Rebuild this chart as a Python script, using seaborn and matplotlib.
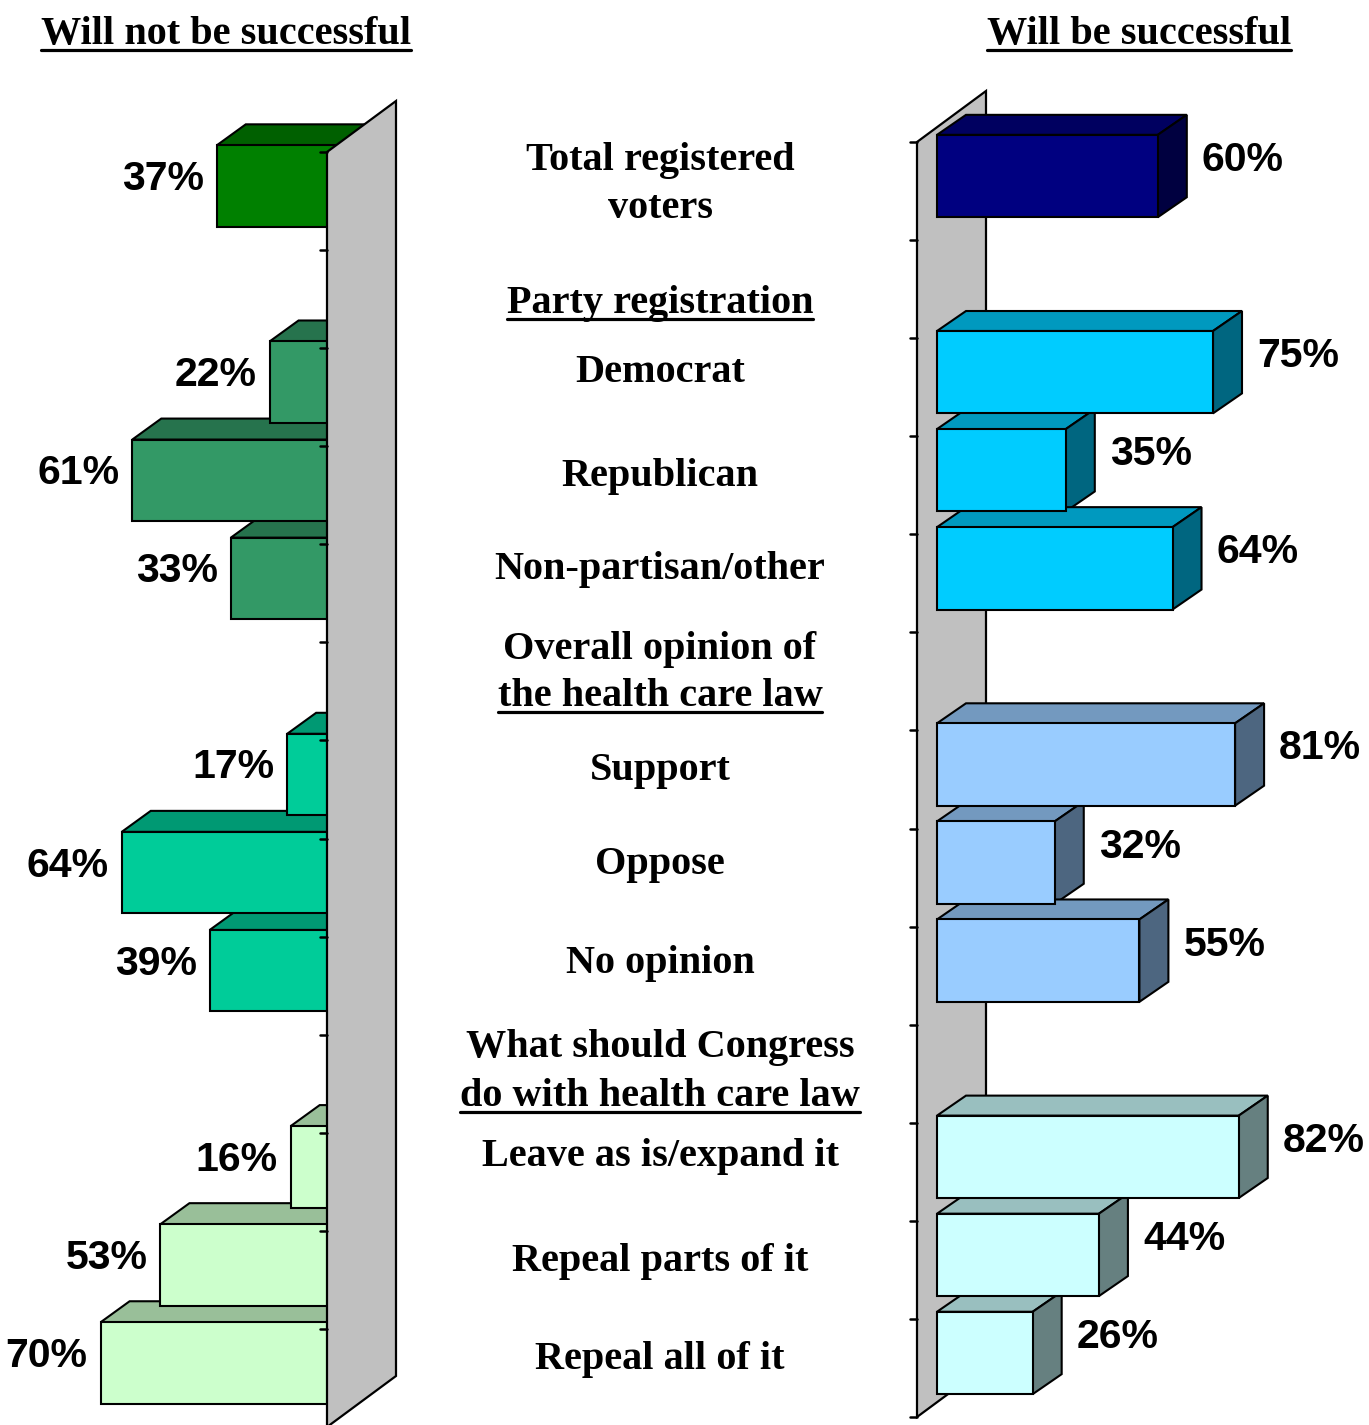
import numpy as np
import pandas as pd
import matplotlib
matplotlib.use("Agg")
import matplotlib.pyplot as plt
from matplotlib.patches import Polygon, Rectangle
from matplotlib.lines import Line2D
from matplotlib.colors import to_rgb
import seaborn as sns

# ---- data -------------------------------------------------------------
slots = [
    "Total registered voters",
    "Party registration",
    "Democrat",
    "Republican",
    "Non-partisan/other",
    "Overall opinion of the health care law",
    "Support",
    "Oppose",
    "No opinion",
    "What should Congress do with health care law",
    "Leave as is/expand it",
    "Repeal parts of it",
    "Repeal all of it",
]
categories = [
    "Total registered voters", "Democrat", "Republican", "Non-partisan/other",
    "Support", "Oppose", "No opinion",
    "Leave as is/expand it", "Repeal parts of it", "Repeal all of it",
]
groups = ["total", "party", "party", "party",
          "opinion", "opinion", "opinion",
          "congress", "congress", "congress"]
not_successful = [37, 22, 61, 33, 17, 64, 39, 16, 53, 70]
successful = [60, 75, 35, 64, 81, 32, 55, 82, 44, 26]

left_colors = {"total": "#008000", "party": "#339966",
               "opinion": "#00CC99", "congress": "#CCFFCC"}
right_colors = {"total": "#000080", "party": "#00CCFF",
                "opinion": "#99CCFF", "congress": "#CCFFFF"}

df = pd.DataFrame({"category": categories, "group": groups,
                   "not_successful": not_successful, "successful": successful})

# ---- figure -----------------------------------------------------------
sns.set_style("white")
plt.rcParams["font.family"] = ["Liberation Sans", "DejaVu Sans"]

W, H, DPI = 1369, 1425, 100
fig = plt.figure(figsize=(W / DPI, H / DPI), dpi=DPI)
fig.patch.set_facecolor("white")


def px_axes(x0, x1, ytop, ybot):
    return fig.add_axes([x0 / W, 1 - ybot / H, (x1 - x0) / W, (ybot - ytop) / H])


# right panel: zero of the bar front plane at x=937 px, 3.68 px per percent
ax_r = px_axes(917, 1369, 127, 1402)
# left panel: zero at x=347 px, 3.52 px per percent, values grow to the left
ax_l = px_axes(0, 400, 137, 1412)

BAR_EDGE = 1.5
pal_r = {c: right_colors[g] for c, g in zip(categories, groups)}
pal_l = {c: left_colors[g] for c, g in zip(categories, groups)}

sns.barplot(data=df, x="successful", y="category", hue="category", order=slots,
            palette=pal_r, legend=False, orient="h", width=0.84, saturation=1,
            errorbar=None, edgecolor="black", linewidth=BAR_EDGE, ax=ax_r)
sns.barplot(data=df, x="not_successful", y="category", hue="category", order=slots,
            palette=pal_l, legend=False, orient="h", width=0.83, saturation=1,
            errorbar=None, edgecolor="black", linewidth=BAR_EDGE, ax=ax_l)


def bars_of(ax):
    bars = [p for p in ax.patches if isinstance(p, Rectangle) and p.get_width() != 0]
    return sorted(bars, key=lambda r: r.get_y())


bars_r = bars_of(ax_r)
bars_l = bars_of(ax_l)

ax_r.set_xlim(-20 / 3.68, (1369 - 937) / 3.68)
ax_l.set_xlim(347 / 3.52, -(400 - 347) / 3.52)
for ax in (ax_r, ax_l):
    ax.set_ylim(len(slots) - 0.5, -0.5)
    ax.axis("off")


def shifted(ax, pts, dx, dy):
    """Move data points by a screen offset given in pixels."""
    disp = ax.transData.transform(np.atleast_2d(pts)) + np.array([dx, dy])
    return ax.transData.inverted().transform(disp)


def shade(color, f):
    return tuple(np.array(to_rgb(color)) * f)


WALL_FRONT = (-20, -15)
WALL_BACK = (49, 36)


def draw_wall(ax, z):
    top, bot = -0.5, len(slots) - 0.5
    pts = np.vstack([
        shifted(ax, (0, top), *WALL_FRONT),
        shifted(ax, (0, bot), *WALL_FRONT),
        shifted(ax, (0, bot), *WALL_BACK),
        shifted(ax, (0, top), *WALL_BACK),
    ])
    ax.add_patch(Polygon(pts, closed=True, facecolor="#C0C0C0", edgecolor="black",
                         linewidth=1.6, zorder=z, clip_on=False))
    for b in np.arange(top, bot + 1):
        seg = np.vstack([shifted(ax, (0, b), -27, -15), shifted(ax, (0, b), -20, -15)])
        ax.add_line(Line2D(seg[:, 0], seg[:, 1], color="black", linewidth=1.8,
                           zorder=z + 1, clip_on=False))


# right panel: wall behind, bars with top and side faces
draw_wall(ax_r, 0.5)
for p in bars_r:
    p.set_zorder(3)
    p.set_clip_on(False)
    v = p.get_x() + p.get_width()
    ytop, ybot = p.get_y(), p.get_y() + p.get_height()
    fc = p.get_facecolor()
    d = (29, 20)
    top = np.vstack([[0, ytop], [v, ytop], shifted(ax_r, (v, ytop), *d),
                     shifted(ax_r, (0, ytop), *d)])
    side = np.vstack([[v, ytop], [v, ybot], shifted(ax_r, (v, ybot), *d),
                      shifted(ax_r, (v, ytop), *d)])
    ax_r.add_patch(Polygon(top, closed=True, facecolor=shade(fc, 0.75),
                           edgecolor="black", linewidth=BAR_EDGE, zorder=2, clip_on=False))
    ax_r.add_patch(Polygon(side, closed=True, facecolor=shade(fc, 0.5),
                           edgecolor="black", linewidth=BAR_EDGE, zorder=2, clip_on=False))

# left panel: bars tuck in behind the wall, only the top face shows
for p in bars_l:
    p.set_zorder(3)
    p.set_clip_on(False)
    v = p.get_x() + p.get_width()
    ytop = p.get_y()
    fc = p.get_facecolor()
    d = (29, 21)
    top = np.vstack([[v, ytop], [0, ytop], shifted(ax_l, (0, ytop), *d),
                     shifted(ax_l, (v, ytop), *d)])
    ax_l.add_patch(Polygon(top, closed=True, facecolor=shade(fc, 0.75),
                           edgecolor="black", linewidth=BAR_EDGE, zorder=2, clip_on=False))
draw_wall(ax_l, 5)

# value labels
val_font = dict(fontsize=29.5, fontweight="bold", family=["Liberation Sans", "DejaVu Sans"],
                color="black")
for p, v in zip(bars_r, successful):
    yc = p.get_y() + p.get_height() / 2
    ax_r.annotate(f"{v}%", xy=(v, yc), xytext=(44, 16), textcoords="offset pixels",
                  ha="left", va="center", annotation_clip=False, zorder=10, **val_font)
for p, v in zip(bars_l, not_successful):
    yc = p.get_y() + p.get_height() / 2
    ax_l.annotate(f"{v}%", xy=(v, yc), xytext=(-13, 7), textcoords="offset pixels",
                  ha="right", va="center", annotation_clip=False, zorder=10, **val_font)

# centre column labels (text, baseline in px from top, underlined)
serif = dict(fontsize=29, fontweight="bold", family=["Liberation Serif", "DejaVu Serif"],
             color="black")
center_labels = [
    ("Total registered", 170, False),
    ("voters", 218, False),
    ("Party registration", 313, True),
    ("Democrat", 382, False),
    ("Republican", 486, False),
    ("Non-partisan/other", 579, False),
    ("Overall opinion of", 659, False),
    ("the health care law", 706, True),
    ("Support", 780, False),
    ("Oppose", 874, False),
    ("No opinion", 973, False),
    ("What should Congress", 1057, False),
    ("do with health care law", 1106, True),
    ("Leave as is/expand it", 1166, False),
    ("Repeal parts of it", 1271, False),
    ("Repeal all of it", 1369, False),
]
titles = [("Will not be successful", 226, 44), ("Will be successful", 1139, 44)]

underlined = []
for txt, base, ul in center_labels:
    t = fig.text(660 / W, 1 - base / H, txt, ha="center", va="baseline", **serif)
    if ul:
        underlined.append((t, base + 6))
for txt, xc, base in titles:
    t = fig.text(xc / W, 1 - base / H, txt, ha="center", va="baseline", **serif)
    underlined.append((t, base + 6))

fig.canvas.draw()
renderer = fig.canvas.get_renderer()
for t, yline in underlined:
    bb = t.get_window_extent(renderer)
    fig.add_artist(Line2D([bb.x0 / W, bb.x1 / W], [1 - yline / H] * 2,
                          transform=fig.transFigure, color="black", linewidth=2.3))

fig.savefig("out.png", dpi=DPI, facecolor="white")
